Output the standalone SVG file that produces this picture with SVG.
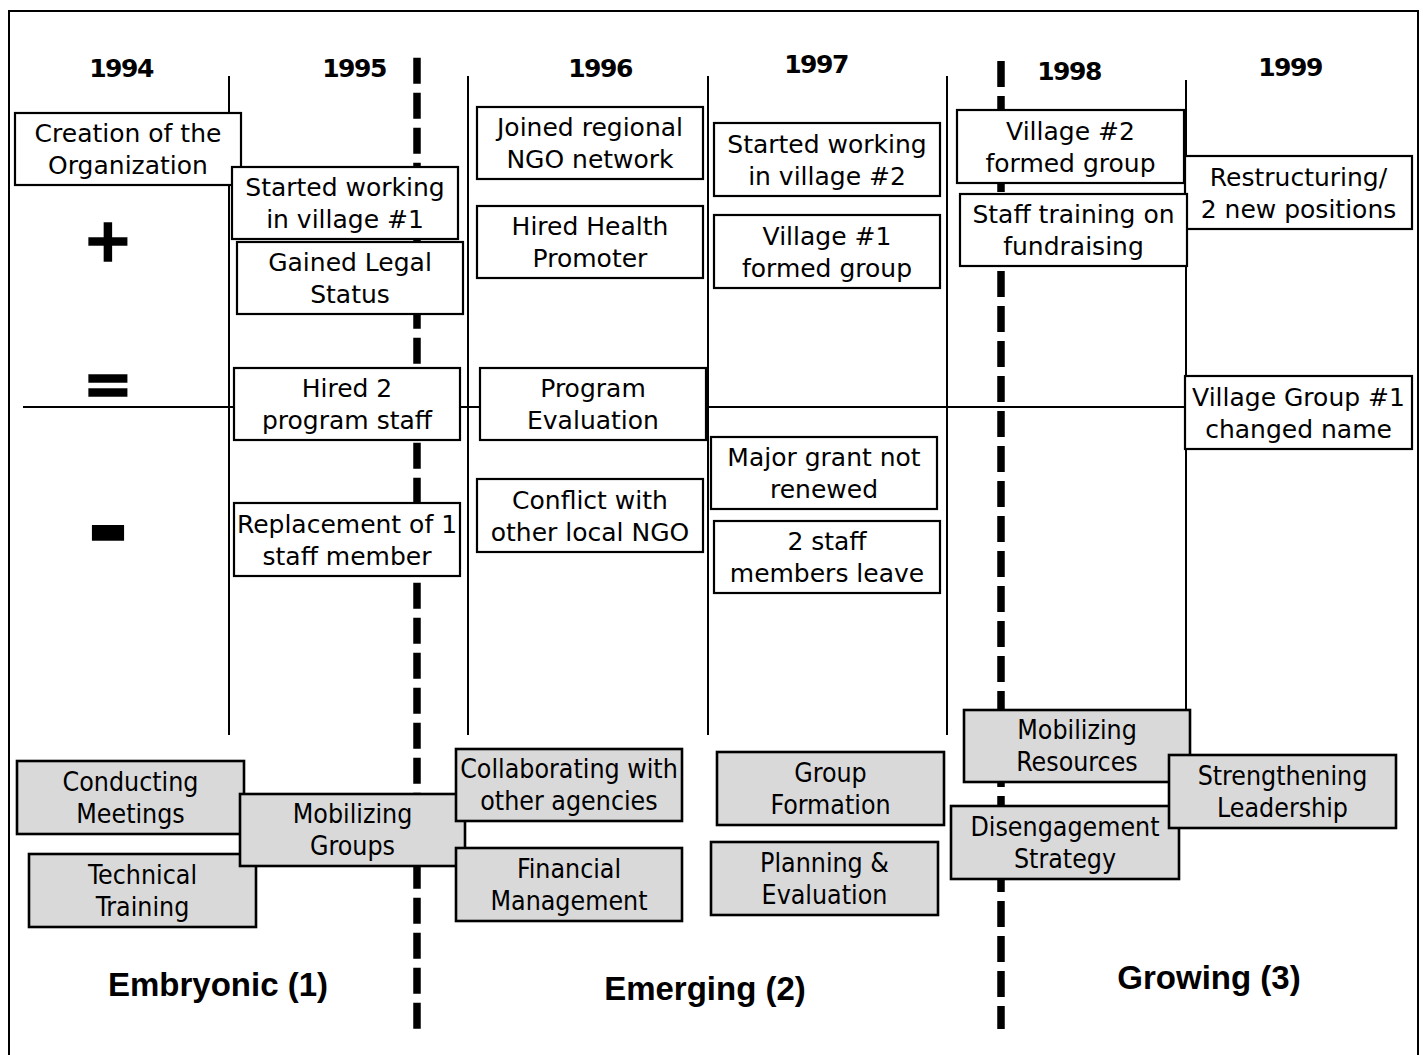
<svg xmlns="http://www.w3.org/2000/svg" width="1423" height="1055" viewBox="0 0 1423 1055">
  <style>
    .frame { fill: none; stroke: #000; stroke-width: 2; }
    .rule { stroke: #000; stroke-width: 2; fill: none; }
    .phase { stroke: #000; stroke-width: 7.5; stroke-dasharray: 26 9; fill: none; }
    .ev rect { fill: #fff; stroke: #000; stroke-width: 2.2; }
    .ev text { font-family: "DejaVu Sans", Verdana, sans-serif; font-size: 25px; text-anchor: middle; fill: #000; }
    .cap rect { fill: #d9d9d9; stroke: #000; stroke-width: 2.6; }
    .cap text { font-family: "DejaVu Sans Condensed", "DejaVu Sans", sans-serif; font-stretch: condensed; font-size: 26.5px; text-anchor: middle; fill: #000; }
    .year { font-family: "DejaVu Sans", Verdana, sans-serif; font-weight: bold; font-size: 25px; letter-spacing: -1.5px; text-anchor: middle; }
    .sym { font-family: "DejaVu Sans", sans-serif; font-weight: bold; text-anchor: middle; stroke: #000; stroke-width: 1.5; }
    .stage { font-family: "Liberation Sans", Arial, sans-serif; font-weight: bold; font-size: 33px; text-anchor: middle; }
  </style>

  <rect width="1423" height="1055" fill="#fff"/>

  <!-- outer frame, open at the bottom -->
  <path class="frame" d="M9,1056 V11 H1418 V1056"/>

  <!-- year columns, zero line and stage dividers -->
  <g id="connectors">
    <line class="rule" x1="229" y1="76" x2="229" y2="735"/>
    <line class="rule" x1="468" y1="76" x2="468" y2="735"/>
    <line class="rule" x1="708" y1="76" x2="708" y2="735"/>
    <line class="rule" x1="947" y1="76" x2="947" y2="735"/>
    <line class="rule" x1="1186" y1="80" x2="1186" y2="712"/>
    <line class="rule" x1="23" y1="407" x2="1185" y2="407"/>
    <line class="phase" x1="417" y1="57.7" x2="417" y2="1029"/>
    <line class="phase" x1="1001" y1="61" x2="1001" y2="1029"/>
  </g>

  <!-- year headings -->
  <g id="years">
    <text class="year" x="121" y="77">1994</text>
    <text class="year" x="354" y="77">1995</text>
    <text class="year" x="600" y="77">1996</text>
    <text class="year" x="816" y="73">1997</text>
    <text class="year" x="1069" y="80">1998</text>
    <text class="year" x="1290" y="76">1999</text>
  </g>

  <!-- impact scale -->
  <g id="scale">
    <text class="sym" x="108" y="260.5" font-size="60">+</text>
    <text class="sym" x="108" y="404.5" font-size="60">=</text>
    <text class="sym" x="108" y="562" font-size="100" stroke-width="0">-</text>
  </g>

  <!-- events -->
  <g id="ev-creation" class="ev">
    <rect x="15" y="113" width="226" height="72"/>
    <text x="128" y="142">Creation of the</text>
    <text x="128" y="174">Organization</text>
  </g>
  <g id="ev-village1" class="ev">
    <rect x="232" y="167" width="226" height="72"/>
    <text x="345" y="196">Started working</text>
    <text x="345" y="228">in village #1</text>
  </g>
  <g id="ev-legal" class="ev">
    <rect x="237" y="242" width="226" height="72"/>
    <text x="350" y="271">Gained Legal</text>
    <text x="350" y="303">Status</text>
  </g>
  <g id="ev-network" class="ev">
    <rect x="477" y="107" width="226" height="72"/>
    <text x="590" y="136">Joined regional</text>
    <text x="590" y="168">NGO network</text>
  </g>
  <g id="ev-health" class="ev">
    <rect x="477" y="206" width="226" height="72"/>
    <text x="590" y="235">Hired Health</text>
    <text x="590" y="267">Promoter</text>
  </g>
  <g id="ev-village2" class="ev">
    <rect x="714" y="123" width="226" height="73"/>
    <text x="827" y="152.5">Started working</text>
    <text x="827" y="184.5">in village #2</text>
  </g>
  <g id="ev-group1" class="ev">
    <rect x="714" y="215" width="226" height="73"/>
    <text x="827" y="244.5">Village #1</text>
    <text x="827" y="276.5">formed group</text>
  </g>
  <g id="ev-group2" class="ev">
    <rect x="957" y="110" width="227" height="73"/>
    <text x="1070.5" y="139.5">Village #2</text>
    <text x="1070.5" y="171.5">formed group</text>
  </g>
  <g id="ev-restructure" class="ev">
    <rect x="1185" y="156" width="227" height="73"/>
    <text x="1298.5" y="185.5">Restructuring/</text>
    <text x="1298.5" y="217.5">2 new positions</text>
  </g>
  <g id="ev-fundraising" class="ev">
    <rect x="960" y="194" width="227" height="72"/>
    <text x="1073.5" y="223">Staff training on</text>
    <text x="1073.5" y="255">fundraising</text>
  </g>
  <g id="ev-rename" class="ev">
    <rect x="1185" y="376" width="227" height="73"/>
    <text x="1298.5" y="405.5">Village Group #1</text>
    <text x="1298.5" y="437.5">changed name</text>
  </g>
  <g id="ev-staff" class="ev">
    <rect x="234" y="368" width="226" height="72"/>
    <text x="347" y="397">Hired 2</text>
    <text x="347" y="429">program staff</text>
  </g>
  <g id="ev-evaluation" class="ev">
    <rect x="480" y="368" width="226" height="72"/>
    <text x="593" y="397">Program</text>
    <text x="593" y="429">Evaluation</text>
  </g>
  <g id="ev-replacement" class="ev">
    <rect x="234" y="503" width="226" height="73"/>
    <text x="347" y="532.5">Replacement of 1</text>
    <text x="347" y="564.5">staff member</text>
  </g>
  <g id="ev-conflict" class="ev">
    <rect x="477" y="479" width="226" height="73"/>
    <text x="590" y="508.5">Conflict with</text>
    <text x="590" y="540.5">other local NGO</text>
  </g>
  <g id="ev-grant" class="ev">
    <rect x="711" y="437" width="226" height="72"/>
    <text x="824" y="466">Major grant not</text>
    <text x="824" y="498">renewed</text>
  </g>
  <g id="ev-leave" class="ev">
    <rect x="714" y="521" width="226" height="72"/>
    <text x="827" y="550">2 staff</text>
    <text x="827" y="582">members leave</text>
  </g>

  <!-- capacities -->
  <g id="cap-meetings" class="cap">
    <rect x="17" y="761" width="227" height="73"/>
    <text x="130.5" y="790.5">Conducting</text>
    <text x="130.5" y="822.5">Meetings</text>
  </g>
  <g id="cap-technical" class="cap">
    <rect x="29" y="854" width="227" height="73"/>
    <text x="142.5" y="883.5">Technical</text>
    <text x="142.5" y="915.5">Training</text>
  </g>
  <g id="cap-groups" class="cap">
    <rect x="240" y="794" width="225" height="72"/>
    <text x="352.5" y="823">Mobilizing</text>
    <text x="352.5" y="855">Groups</text>
  </g>
  <g id="cap-collaborating" class="cap">
    <rect x="456" y="749" width="226" height="72"/>
    <text x="569" y="778">Collaborating with</text>
    <text x="569" y="810">other agencies</text>
  </g>
  <g id="cap-financial" class="cap">
    <rect x="456" y="848" width="226" height="73"/>
    <text x="569" y="877.5">Financial</text>
    <text x="569" y="909.5">Management</text>
  </g>
  <g id="cap-formation" class="cap">
    <rect x="717" y="752" width="227" height="73"/>
    <text x="830.5" y="781.5">Group</text>
    <text x="830.5" y="813.5">Formation</text>
  </g>
  <g id="cap-planning" class="cap">
    <rect x="711" y="842" width="227" height="73"/>
    <text x="824.5" y="871.5">Planning &amp;</text>
    <text x="824.5" y="903.5">Evaluation</text>
  </g>
  <g id="cap-resources" class="cap">
    <rect x="964" y="710" width="226" height="72"/>
    <text x="1077" y="739">Mobilizing</text>
    <text x="1077" y="771">Resources</text>
  </g>
  <g id="cap-disengagement" class="cap">
    <rect x="951" y="806" width="228" height="73"/>
    <text x="1065" y="835.5">Disengagement</text>
    <text x="1065" y="867.5">Strategy</text>
  </g>
  <g id="cap-leadership" class="cap">
    <rect x="1169" y="755" width="227" height="73"/>
    <text x="1282.5" y="784.5">Strengthening</text>
    <text x="1282.5" y="816.5">Leadership</text>
  </g>

  <!-- stage names -->
  <g id="stages">
    <text class="stage" x="218" y="996">Embryonic (1)</text>
    <text class="stage" x="705" y="1000">Emerging (2)</text>
    <text class="stage" x="1209" y="989">Growing (3)</text>
  </g>
</svg>
